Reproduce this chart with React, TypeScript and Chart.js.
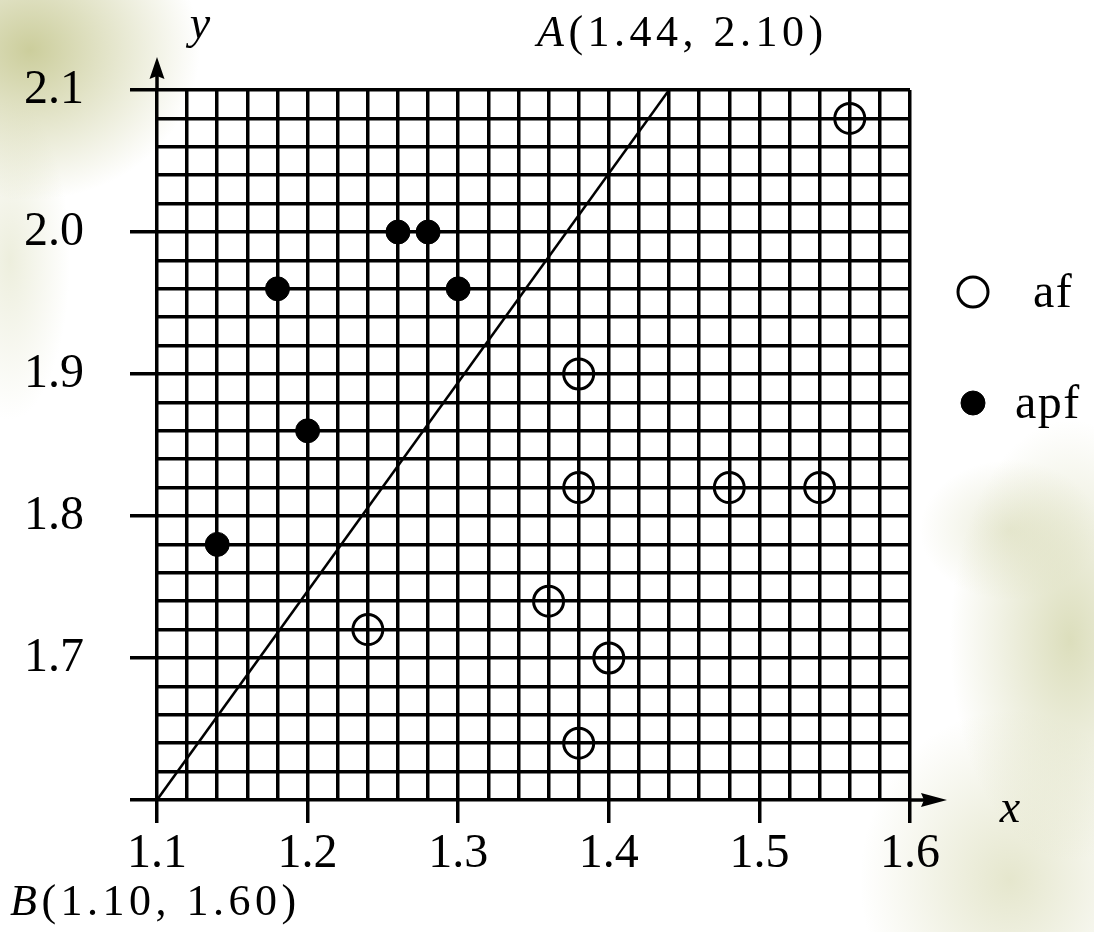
import React, { useEffect, useRef } from "react";
import { Chart, registerables } from "chart.js";

Chart.register(...registerables);

// Axis ranges and labelled tick values
const X_MIN = 1.1;
const X_MAX = 1.6;
const Y_MIN = 1.6;
const Y_MAX = 2.1;
const GRID_STEP = 0.02;
const xTickLabels = ["1.1", "1.2", "1.3", "1.4", "1.5", "1.6"];
const yTickLabels = ["1.7", "1.8", "1.9", "2.0", "2.1"];

// af samples (open circles)
const afX = [1.56, 1.38, 1.38, 1.48, 1.54, 1.36, 1.24, 1.4, 1.38];
const afY = [2.08, 1.9, 1.82, 1.82, 1.82, 1.74, 1.72, 1.7, 1.64];

// apf samples (filled dots)
const apfX = [1.14, 1.18, 1.2, 1.26, 1.28, 1.3];
const apfY = [1.78, 1.96, 1.86, 2.0, 2.0, 1.96];

// Separating line from B to A
const pointA = { x: 1.44, y: 2.1 };
const pointB = { x: 1.1, y: 1.6 };

const SERIF = "'Liberation Serif', 'Times New Roman', serif";

const isMajor = (v: number) => Math.abs(v * 10 - Math.round(v * 10)) < 1e-6;

const labelFor = (v: number, labels: string[]) => {
  if (!isMajor(v)) return "";
  const s = v.toFixed(1);
  return labels.includes(s) ? s : "";
};

const pairs = (xs: number[], ys: number[]) => xs.map((x, i) => ({ x, y: ys[i] }));

const overlayPlugin = {
  id: "overlay",
  afterDraw(chart: any) {
    const { ctx, chartArea: a, scales } = chart;
    const xs = scales.x;
    const ys = scales.y;
    const x0 = xs.getPixelForValue(X_MIN);
    const y0 = ys.getPixelForValue(Y_MIN);
    ctx.save();
    ctx.fillStyle = "#000";
    ctx.strokeStyle = "#000";
    ctx.lineWidth = 3.5;

    // y axis arrow
    ctx.beginPath();
    ctx.moveTo(x0, a.top);
    ctx.lineTo(x0, a.top - 14);
    ctx.stroke();
    ctx.beginPath();
    ctx.moveTo(x0, a.top - 33);
    ctx.lineTo(x0 - 7.5, a.top - 11);
    ctx.lineTo(x0, a.top - 14);
    ctx.lineTo(x0 + 7.5, a.top - 11);
    ctx.closePath();
    ctx.fill();

    // x axis arrow
    ctx.beginPath();
    ctx.moveTo(a.right, y0);
    ctx.lineTo(a.right + 14, y0);
    ctx.stroke();
    ctx.beginPath();
    ctx.moveTo(a.right + 37, y0);
    ctx.lineTo(a.right + 11, y0 - 7);
    ctx.lineTo(a.right + 14, y0);
    ctx.lineTo(a.right + 11, y0 + 7);
    ctx.closePath();
    ctx.fill();

    // axis names
    ctx.textBaseline = "alphabetic";
    ctx.textAlign = "center";
    ctx.font = `italic 46px ${SERIF}`;
    ctx.fillText("y", x0 + 43, a.top - 52);
    ctx.fillText("x", a.right + 100, y0 + 22);

    // point labels
    const drawPointLabel = (name: string, p: { x: number; y: number }, left: number, baseline: number) => {
      const rest = `(${p.x.toFixed(2)}, ${p.y.toFixed(2)})`;
      ctx.textAlign = "left";
      (ctx as any).letterSpacing = "4.5px";
      ctx.font = `italic 44px ${SERIF}`;
      ctx.fillText(name, left, baseline);
      const w = ctx.measureText(name).width;
      ctx.font = `44px ${SERIF}`;
      ctx.fillText(rest, left + w, baseline);
      (ctx as any).letterSpacing = "0px";
    };
    drawPointLabel("A", pointA, xs.getPixelForValue(pointA.x) - 132, ys.getPixelForValue(pointA.y) - 44);
    drawPointLabel("B", pointB, 10, y0 + 115);

    // legend
    const legendX = a.right + 63;
    chart.data.datasets.slice(1).forEach((ds: any, i: number) => {
      const cy = a.top + 202 + i * 111;
      ctx.beginPath();
      ctx.arc(legendX, cy, ds.pointRadius, 0, Math.PI * 2);
      if (ds.backgroundColor !== "rgba(0,0,0,0)") {
        ctx.fillStyle = ds.backgroundColor;
        ctx.fill();
      }
      ctx.lineWidth = ds.borderWidth;
      ctx.strokeStyle = ds.borderColor;
      ctx.stroke();
      ctx.fillStyle = "#000";
      ctx.font = `48px ${SERIF}`;
      (ctx as any).letterSpacing = "1.5px";
      ctx.textAlign = "left";
      ctx.textBaseline = "alphabetic";
      ctx.fillText(ds.label, i === 0 ? legendX + 60 : legendX + 42, cy + 15);
      (ctx as any).letterSpacing = "0px";
    });
    ctx.restore();
  },
};

export default function App() {
  const canvasRef = useRef<HTMLCanvasElement | null>(null);

  useEffect(() => {
    const canvas = canvasRef.current;
    if (!canvas) return;
    const tickColor = (c: any) => (c.tick && isMajor(c.tick.value) ? "#000" : "rgba(0,0,0,0)");

    const chart = new Chart(canvas, {
      type: "scatter",
      data: {
        datasets: [
          {
            label: "BA",
            data: [pointB, pointA],
            showLine: true,
            borderColor: "#000",
            borderWidth: 2.5,
            pointRadius: 0,
            fill: false,
          },
          {
            label: "af",
            data: pairs(afX, afY),
            pointRadius: 15,
            pointHoverRadius: 15,
            borderWidth: 3,
            borderColor: "#000",
            backgroundColor: "rgba(0,0,0,0)",
          },
          {
            label: "apf",
            data: pairs(apfX, apfY),
            pointRadius: 12,
            pointHoverRadius: 12,
            borderWidth: 1,
            borderColor: "#000",
            backgroundColor: "#000",
          },
        ],
      },
      options: {
        responsive: false,
        animation: false,
        devicePixelRatio: 1,
        layout: { padding: { top: 90, right: 184, left: 0, bottom: 0 } },
        plugins: {
          legend: { display: false },
          tooltip: { enabled: false },
        },
        scales: {
          x: {
            type: "linear",
            min: X_MIN,
            max: X_MAX,
            afterFit: (s: any) => {
              s.height = 132;
            },
            border: { display: false },
            grid: {
              color: "#000",
              lineWidth: 3.5,
              drawTicks: true,
              tickLength: 23,
              tickColor,
              tickWidth: 3.5,
            },
            ticks: {
              stepSize: GRID_STEP,
              autoSkip: false,
              maxRotation: 0,
              padding: 3,
              color: "#000",
              font: { family: SERIF, size: 48 },
              callback: (v: any) => labelFor(Number(v), xTickLabels),
            },
          },
          y: {
            type: "linear",
            min: Y_MIN,
            max: Y_MAX,
            afterFit: (s: any) => {
              s.width = 157;
            },
            border: { display: false },
            grid: {
              color: "#000",
              lineWidth: 3.5,
              drawTicks: true,
              tickLength: 27,
              tickColor,
              tickWidth: 3.5,
            },
            ticks: {
              stepSize: GRID_STEP,
              autoSkip: false,
              padding: 46,
              color: "#000",
              font: { family: SERIF, size: 48 },
              callback: (v: any) => labelFor(Number(v), yTickLabels),
            },
          },
        },
      },
      plugins: [overlayPlugin],
    } as any);

    return () => chart.destroy();
  }, []);

  return (
    <div
      style={{
        position: "fixed",
        left: 0,
        top: 0,
        width: 1094,
        height: 932,
        background: [
          "radial-gradient(ellipse 170px 150px at 30px 50px, rgba(198,200,145,0.9), rgba(198,200,145,0))",
          "radial-gradient(ellipse 60px 160px at 10px 260px, rgba(215,218,180,0.45), rgba(215,218,180,0))",
          "radial-gradient(ellipse 120px 220px at 1070px 640px, rgba(205,208,160,0.7), rgba(205,208,160,0))",
          "radial-gradient(ellipse 150px 170px at 1010px 880px, rgba(212,214,172,0.6), rgba(212,214,172,0))",
          "radial-gradient(ellipse 90px 70px at 1010px 530px, rgba(214,216,178,0.5), rgba(214,216,178,0))",
          "#ffffff",
        ].join(", "),
      }}
    >
      <canvas ref={canvasRef} width={1094} height={932} style={{ display: "block", width: 1094, height: 932 }} />
    </div>
  );
}
